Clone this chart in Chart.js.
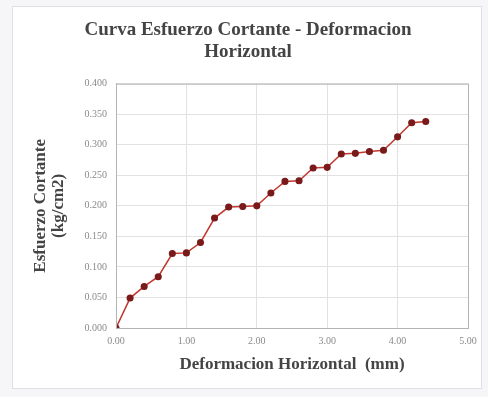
<!DOCTYPE html>
<html lang="en">

<head>
  <meta charset="UTF-8">
  <script src="https://cdn.jsdelivr.net/npm/chart.js@4.4.0/dist/chart.umd.min.js"></script>
  <style>
    body {
      margin: 0;
      background: #f6f6f8;
    }

    #frame {
      position: absolute;
      left: 12px;
      top: 6px;
      width: 468px;
      height: 381px;
      background: #ffffff;
      border: 1px solid #e0e0e4;
    }

    #wrap {
      position: absolute;
      left: 0;
      top: 0;
      width: 488px;
      height: 397px;
    }
  </style>
  <title>Curva Esfuerzo Cortante - Deformacion Horizontal</title>
</head>

<body>
  <div id="frame"></div>
  <div id="wrap">
    <canvas id="chart" width="488" height="397"></canvas>
  </div>

  <script>
    // deformacion horizontal (mm) and esfuerzo cortante (kg/cm2)
    const deformacion = [0.0, 0.2, 0.4, 0.6, 0.8, 1.0, 1.2, 1.4, 1.6, 1.8, 2.0, 2.2,
      2.4, 2.6, 2.8, 3.0, 3.2, 3.4, 3.6, 3.8, 4.0, 4.2, 4.4]
    const esfuerzo = [0.000, 0.049, 0.068, 0.084, 0.122, 0.123, 0.140, 0.180, 0.198, 0.199, 0.200, 0.221,
      0.240, 0.241, 0.262, 0.263, 0.285, 0.286, 0.289, 0.291, 0.313, 0.336, 0.338]

    const titleText = ['Curva Esfuerzo Cortante - Deformacion', 'Horizontal']
    const xTitle = 'Deformacion Horizontal  (mm)'
    const yTitle = ['Esfuerzo Cortante', '(kg/cm2)']

    const serif = '"Liberation Serif", "DejaVu Serif", serif'

    // box round the plot area
    const plotBox = {
      id: 'plotBox',
      afterDraw(chart) {
        const a = chart.chartArea
        const ctx = chart.ctx
        ctx.save()
        ctx.strokeStyle = '#b4b4b4'
        ctx.lineWidth = 1
        ctx.strokeRect(a.left + 0.5, a.top + 0.5, a.right - a.left, a.bottom - a.top)
        ctx.restore()
      }
    }

    const points = deformacion.map(function (x, i) { return { x: x, y: esfuerzo[i] } })

    new Chart(document.getElementById('chart'), {
      type: 'line',
      data: {
        datasets: [{
          data: points,
          borderColor: '#c0392f',
          borderWidth: 1.5,
          backgroundColor: '#7a1a1a',
          pointBackgroundColor: '#7a1a1a',
          pointBorderColor: '#7a1a1a',
          pointRadius: 2.8,
          tension: 0
        }]
      },
      options: {
        responsive: false,
        animation: false,
        layout: { padding: { left: 28, right: 20, top: 6, bottom: 10 } },
        plugins: {
          legend: { display: false },
          tooltip: { enabled: false },
          title: {
            display: true,
            text: titleText,
            color: '#444444',
            font: { family: serif, size: 19, weight: 'bold', lineHeight: 1.15 },
            padding: { top: 13, bottom: 21 }
          }
        },
        scales: {
          x: {
            type: 'linear',
            min: 0,
            max: 5,
            afterFit: function (s) { s.height = 59 },
            ticks: {
              stepSize: 1,
              color: '#8a8a8a',
              font: { family: serif, size: 10 },
              padding: 7,
              callback: function (v) { return v.toFixed(2) }
            },
            grid: { color: '#e2e2e2', drawTicks: false },
            border: { color: '#b4b4b4' },
            title: {
              display: true,
              text: xTitle,
              color: '#444444',
              font: { family: serif, size: 17, weight: 'bold' },
              padding: { top: 4, bottom: 12 }
            }
          },
          y: {
            min: 0,
            max: 0.4,
            afterFit: function (s) { s.width = 88 },
            ticks: {
              stepSize: 0.05,
              color: '#8a8a8a',
              font: { family: serif, size: 10 },
              padding: 9,
              callback: function (v) { return v.toFixed(3) }
            },
            grid: { color: '#e2e2e2', drawTicks: false },
            border: { color: '#b4b4b4' },
            title: {
              display: true,
              text: yTitle,
              color: '#444444',
              font: { family: serif, size: 17, weight: 'bold', lineHeight: 1.05 },
              padding: { bottom: 4 }
            }
          }
        }
      },
      plugins: [plotBox]
    })
  </script>
</body>

</html>
